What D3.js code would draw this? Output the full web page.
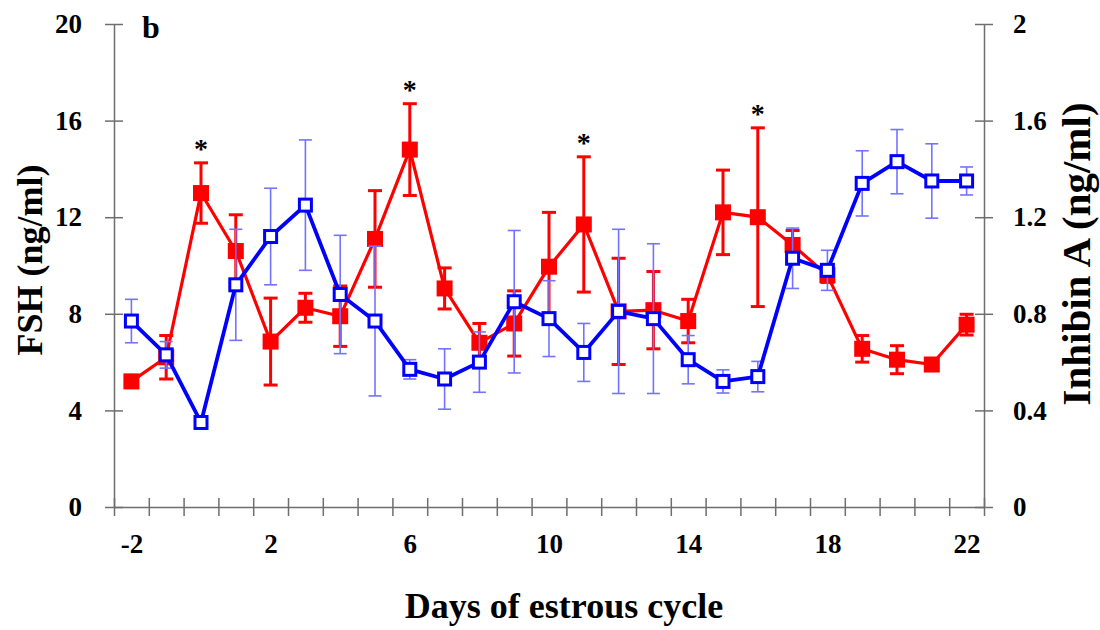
<!DOCTYPE html>
<html>
<head>
<meta charset="utf-8">
<script src="https://cdn.jsdelivr.net/npm/d3@7"></script>
<style>
  body { margin: 0; background: #fff; }
  text { font-family: "Liberation Serif", "Times New Roman", serif; font-weight: bold; }
</style>
</head>
<body>
<div id="chart"></div>
<script>
var days = [-2, -1, 0, 1, 2, 3, 4, 5, 6, 7, 8, 9, 10, 11, 12, 13, 14, 15, 16, 17, 18, 19, 20, 21, 22]

// FSH (ng/ml), left axis
var fsh    = [5.2, 6.2, 13.0, 10.6, 6.85, 8.25, 7.9, 11.1, 14.8, 9.05, 6.8, 7.6, 9.95, 11.7, 8.1, 8.15, 7.7, 12.2, 12.0, 10.85, 9.6, 6.55, 6.1, 5.9, 7.55]
var fshErr = [0.25, 0.9, 1.25, 1.5, 1.8, 0.6, 1.25, 2.0, 1.9, 0.85, 0.8, 1.35, 2.25, 2.8, 2.2, 1.6, 0.9, 1.75, 3.7, 0.6, 0.3, 0.55, 0.58, 0.2, 0.43]

// Inhibin A (ng/ml), right axis
var inh    = [0.77, 0.63, 0.35, 0.92, 1.12, 1.25, 0.88, 0.77, 0.57, 0.53, 0.60, 0.85, 0.78, 0.64, 0.81, 0.78, 0.61, 0.52, 0.54, 1.03, 0.98, 1.34, 1.43, 1.35, 1.35]
var inhErr = [0.09, 0.055, 0.01, 0.23, 0.2, 0.27, 0.245, 0.31, 0.04, 0.125, 0.125, 0.295, 0.157, 0.12, 0.34, 0.31, 0.1, 0.048, 0.063, 0.125, 0.083, 0.135, 0.133, 0.154, 0.058]

var starDays = [0, 6, 11, 16]
var xLabels = [-2, 2, 6, 10, 14, 18, 22]
var yLeftTicks = [0, 4, 8, 12, 16, 20]
var yRightTicks = [0, 0.4, 0.8, 1.2, 1.6, 2]

var width = 1100, height = 630

var svg = d3.select("#chart").append("svg")
    .attr("width", width)
    .attr("height", height)

var x = d3.scaleLinear().domain([-2.5, 22.5]).range([114, 984])
var yL = d3.scaleLinear().domain([0, 20]).range([507, 24])
var yR = d3.scaleLinear().domain([0, 2]).range([507, 24])

var axisColor = "#6e6e6e"

// ---- axes ----
var gx = svg.append("g").attr("transform", "translate(0," + yL(0) + ")")
    .call(d3.axisBottom(x).tickValues(d3.range(-2.5, 22.6, 1)).tickFormat("").tickSizeOuter(0))
gx.selectAll(".tick line").attr("y1", -9).attr("y2", 9)

var gxl = svg.append("g").attr("transform", "translate(0," + yL(0) + ")")
    .call(d3.axisBottom(x).tickValues(xLabels).tickFormat(function(d){ return String(d) }).tickSize(0).tickPadding(27))
gxl.select(".domain").remove()

var gl = svg.append("g").attr("transform", "translate(" + x(-2.5) + ",0)")
    .call(d3.axisLeft(yL).tickValues(yLeftTicks).tickSizeOuter(0).tickPadding(26))
gl.selectAll(".tick line").attr("x1", -9).attr("x2", 9)

var gr = svg.append("g").attr("transform", "translate(" + x(22.5) + ",0)")
    .call(d3.axisRight(yR).tickValues(yRightTicks).tickFormat(function(d){ return String(d) }).tickSizeOuter(0).tickPadding(23))
gr.selectAll(".tick line").attr("x1", -9).attr("x2", 9)

svg.selectAll(".domain").attr("stroke", axisColor).attr("stroke-width", 1.5)
svg.selectAll(".tick line").attr("stroke", axisColor).attr("stroke-width", 1.5)
svg.selectAll(".tick text")
    .attr("font-family", "Liberation Serif, serif")
    .attr("font-weight", "bold")
    .attr("font-size", 27)
    .attr("fill", "#000")

// ---- axis titles ----
svg.append("text")
    .attr("x", 564).attr("y", 618)
    .attr("text-anchor", "middle")
    .attr("font-size", 36)
    .text("Days of estrous cycle")

svg.append("text")
    .attr("transform", "translate(42," + 260 + ") rotate(-90)")
    .attr("text-anchor", "middle")
    .attr("font-size", 36)
    .text("FSH (ng/ml)")

svg.append("text")
    .attr("transform", "translate(1090," + 254 + ") rotate(-90)")
    .attr("text-anchor", "middle")
    .attr("font-size", 41)
    .text("Inhibin A (ng/ml)")

svg.append("text")
    .attr("x", 142).attr("y", 38)
    .attr("font-size", 32)
    .text("b")

// ---- data rows ----
var fshData = days.map(function(d, i){ return {day: d, v: fsh[i], e: fshErr[i]} })
var inhData = days.map(function(d, i){ return {day: d, v: inh[i], e: inhErr[i]} })

function errorBars(g, data, y, color, sw, cap) {
    var eb = g.selectAll(".eb").data(data).enter().append("g")
    eb.append("line")
        .attr("x1", function(d){ return x(d.day) }).attr("x2", function(d){ return x(d.day) })
        .attr("y1", function(d){ return y(d.v - d.e) }).attr("y2", function(d){ return y(d.v + d.e) })
    eb.append("line")
        .attr("x1", function(d){ return x(d.day) - cap }).attr("x2", function(d){ return x(d.day) + cap })
        .attr("y1", function(d){ return y(d.v + d.e) }).attr("y2", function(d){ return y(d.v + d.e) })
    eb.append("line")
        .attr("x1", function(d){ return x(d.day) - cap }).attr("x2", function(d){ return x(d.day) + cap })
        .attr("y1", function(d){ return y(d.v - d.e) }).attr("y2", function(d){ return y(d.v - d.e) })
    eb.selectAll("line").attr("stroke", color).attr("stroke-width", sw)
}

// FSH (red, filled squares)
var red = svg.append("g")
errorBars(red, fshData, yL, "#ff0000", 3, 7)

red.append("path").datum(fshData)
    .attr("fill", "none")
    .attr("stroke", "#ff0000")
    .attr("stroke-width", 3.2)
    .attr("stroke-linejoin", "round")
    .attr("d", d3.line().x(function(d){ return x(d.day) }).y(function(d){ return yL(d.v) }))

red.selectAll(".sq").data(fshData).enter().append("rect")
    .attr("x", function(d){ return x(d.day) - 8 })
    .attr("y", function(d){ return yL(d.v) - 8 })
    .attr("width", 16).attr("height", 16)
    .attr("fill", "#ff0000")

// Inhibin A (blue, open squares)
var blue = svg.append("g")
errorBars(blue, inhData, yR, "#7373ff", 1.6, 6.5)

blue.append("path").datum(inhData)
    .attr("fill", "none")
    .attr("stroke", "#0000ff")
    .attr("stroke-width", 3.8)
    .attr("stroke-linejoin", "round")
    .attr("d", d3.line().x(function(d){ return x(d.day) }).y(function(d){ return yR(d.v) }))

blue.selectAll(".sq").data(inhData).enter().append("rect")
    .attr("x", function(d){ return x(d.day) - 6 })
    .attr("y", function(d){ return yR(d.v) - 6 })
    .attr("width", 12).attr("height", 12)
    .attr("fill", "#fff")
    .attr("stroke", "#0000ff")
    .attr("stroke-width", 3)

// ---- significance markers ----
svg.selectAll(".star").data(fshData.filter(function(d){ return starDays.indexOf(d.day) >= 0 }))
    .enter().append("text")
    .attr("x", function(d){ return x(d.day) })
    .attr("y", function(d){ return yL(d.v + d.e) - 5 })
    .attr("text-anchor", "middle")
    .attr("font-size", 28)
    .text("*")
</script>
</body>
</html>
